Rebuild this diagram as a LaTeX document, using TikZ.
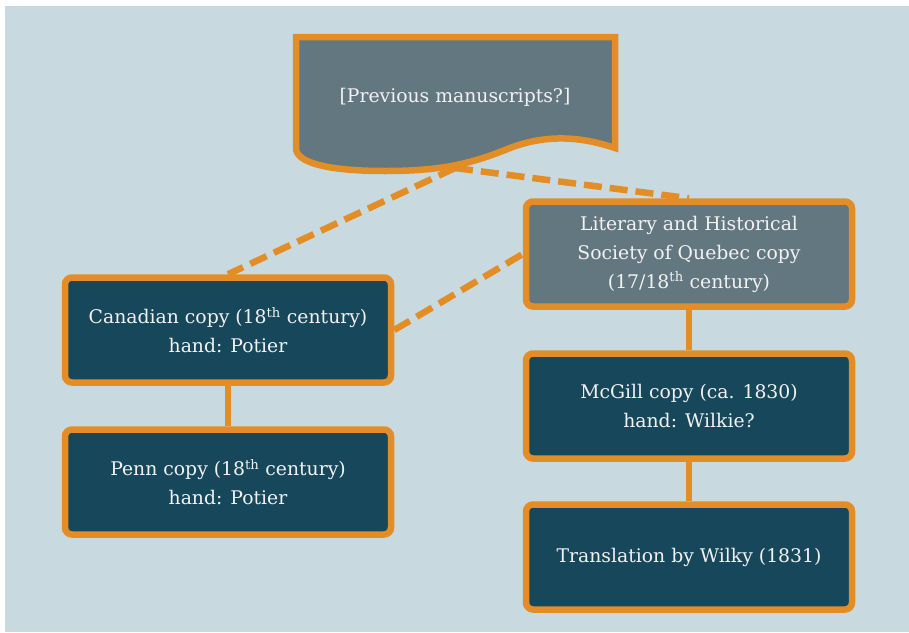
\documentclass[tikz,border=0pt]{standalone}
\usepackage{fontspec}
\setmainfont{DejaVu Serif}
\usetikzlibrary{backgrounds}
\definecolor{bgblue}{HTML}{C8D9E0}
\definecolor{linkorange}{HTML}{E38D26}
\definecolor{darkteal}{HTML}{17475A}
\definecolor{slategray}{HTML}{637780}
\definecolor{paletext}{HTML}{F2F2F2}
\begin{document}
\begin{tikzpicture}[
            x=1pt, y=-1pt,
            copybox/.style={rectangle, draw=linkorange, fill=darkteal,
                        line width=6.5pt, text=paletext, align=center,
                        rounded corners=7pt, minimum width=326pt,
                        minimum height=105pt, inner sep=0pt,
                        font=\fontsize{18.8}{29}\selectfont},
            greybox/.style={copybox, fill=slategray},
            solidlink/.style={line width=6.5pt, color=linkorange},
            dashlink/.style={solidlink, dash pattern=on 18pt off 8pt}
        ]
            \useasboundingbox (0,0) rectangle (909,632);
            % previous manuscripts (document shape)
            \filldraw[line width=6.5pt, draw=linkorange, fill=slategray]
                (296,37) -- (615,37) -- (615,148)
                .. controls (585,138) and (548,132) .. (505,150)
                .. controls (470,164) and (440,171) .. (385,171)
                .. controls (325,171) and (296,162) .. (296,148) -- cycle;
            \node[text=paletext, font=\fontsize{18.8}{29}\selectfont] (prev) at (455,97) {[Previous manuscripts?]};
            \coordinate (prevbot) at (455,168);

            \node[copybox] (canadian) at (228,330) {Canadian copy (18\textsuperscript{th} century)\\hand: Potier};
            \node[copybox] (penn) at (228,482) {Penn copy (18\textsuperscript{th} century)\\hand: Potier};
            \node[greybox] (lhsq) at (689,254) {Literary and Historical\\Society of Quebec copy\\(17/18\textsuperscript{th} century)};
            \node[copybox] (mcgill) at (689,406) {McGill copy (ca. 1830)\\hand: Wilkie?};
            \node[copybox] (translation) at (689,557) {Translation by Wilky (1831)};

            \begin{scope}[on background layer]
                \fill[bgblue] (5,6) rectangle (909,632);
                \draw[dashlink] (prevbot) -- (canadian.north);
                \draw[dashlink] (prevbot) -- (lhsq.north);
                \draw[dashlink] (canadian.east) -- (lhsq.west);
                \draw[solidlink] (canadian) -- (penn);
                \draw[solidlink] (lhsq) -- (mcgill);
                \draw[solidlink] (mcgill) -- (translation);
            \end{scope}
        \end{tikzpicture}
\end{document}
